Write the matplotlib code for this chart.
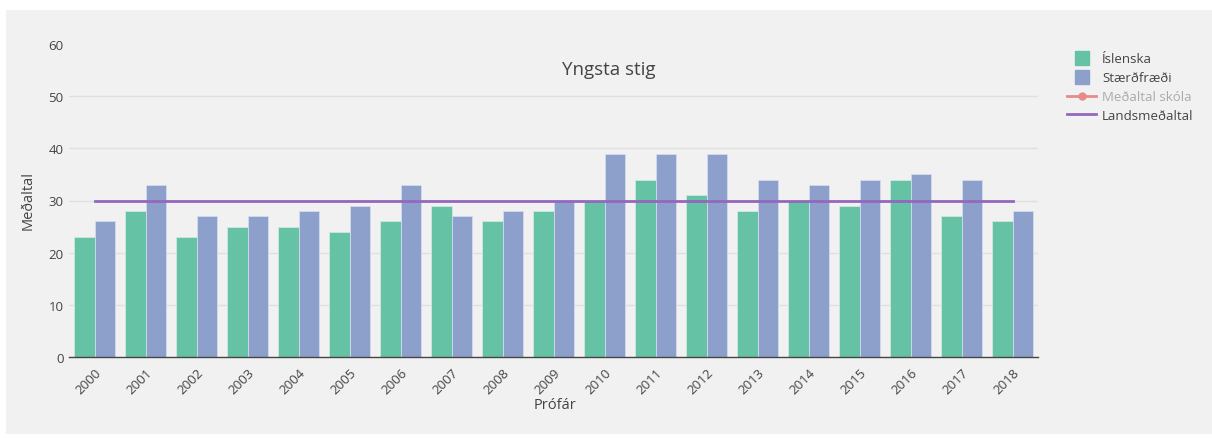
import matplotlib
matplotlib.use("Agg")
from matplotlib import pyplot as plt
from matplotlib.patches import Rectangle
from matplotlib.lines import Line2D
import numpy as np

plt.rcParams['font.family'] = ['Open Sans', 'DejaVu Sans']

# data
years = [str(y) for y in range(2000, 2019)]
islenska = [23, 28, 23, 25, 25, 24, 26, 29, 26, 28, 30, 34, 31, 28, 30, 29, 34, 27, 26]
staerdfraedi = [26, 33, 27, 27, 28, 29, 33, 27, 28, 30, 39, 39, 39, 34, 33, 34, 35, 34, 28]
landsmedaltal = [30] * len(years)

bg = "#f1f1f1"
txt = "#444444"
green = "#66c2a5"
blue = "#8da0cb"
purple = "#9467bd"
salmon = "#e88a8a"

W, H = 1212, 439
fig = plt.figure(figsize=(W / 100, H / 100), dpi=100)
fig.patch.set_facecolor("white")
# gray paper
fig.patches.append(Rectangle((6 / W, 4 / H), 1 - 6 / W, 1 - 15 / H,
                             transform=fig.transFigure, facecolor=bg,
                             edgecolor="none", zorder=-10))

ax = fig.add_axes([69 / W, 81 / H, (1038 - 69) / W, (394 - 81) / H])
ax.set_facecolor(bg)

x = np.arange(len(years))
ax.bar(x - 0.2, islenska, width=0.4, color=green, edgecolor="#cfe9df", linewidth=0.6, zorder=2)
ax.bar(x + 0.2, staerdfraedi, width=0.4, color=blue, edgecolor="#d3dbee", linewidth=0.6, zorder=2)
ax.plot(x, landsmedaltal, color=purple, linewidth=2, zorder=3)

ax.set_xlim(-0.5, len(years) - 0.5)
ax.set_ylim(0, 60)
ax.set_yticks(range(0, 61, 10))
ax.set_xticks(x)
ax.set_xticklabels(years, rotation=45, ha="right", rotation_mode="anchor")
ax.tick_params(axis="both", length=0, labelsize=9.5, colors=txt)
ax.tick_params(axis="x", pad=6)
ax.tick_params(axis="y", pad=4)

for yv in range(10, 60, 10):
    ax.axhline(yv, color="#e0e0e0", linewidth=1, zorder=1)

for s in ["top", "right", "left"]:
    ax.spines[s].set_visible(False)
ax.spines["bottom"].set_color(txt)
ax.spines["bottom"].set_linewidth(1)
ax.spines["bottom"].set_zorder(4)

fig.text(555 / W, 1 - 406 / H, "Prófár", ha="center", va="center", fontsize=10.5, color=txt)
fig.text(28 / W, 1 - 201 / H, "Meðaltal", ha="center", va="center", rotation=90, fontsize=10.5, color=txt)
fig.text(609 / W, 1 - 70 / H, "Yngsta stig", ha="center", va="center", fontsize=13.5, color=txt)

# legend
handles = [
    Line2D([0], [0], color=green, linestyle="none", marker="s", markersize=10),
    Line2D([0], [0], color=blue, linestyle="none", marker="s", markersize=10),
    Line2D([0], [0], color=salmon, linewidth=2, marker="o", markersize=5),
    Line2D([0], [0], color=purple, linewidth=2),
]
labels = ["Íslenska", "Stærðfræði", "Meðaltal skóla", "Landsmeðaltal"]
leg = fig.legend(handles, labels, loc="upper left", bbox_to_anchor=(1062 / W, 1 - 48 / H),
                 frameon=False, fontsize=9.5, handlelength=2.2, handletextpad=0.45,
                 labelspacing=0.45, borderaxespad=0)
for t in leg.get_texts():
    t.set_color(txt)
leg.get_texts()[2].set_color("#aaaaaa")

fig.savefig("out.png", dpi=100, facecolor=fig.get_facecolor())
